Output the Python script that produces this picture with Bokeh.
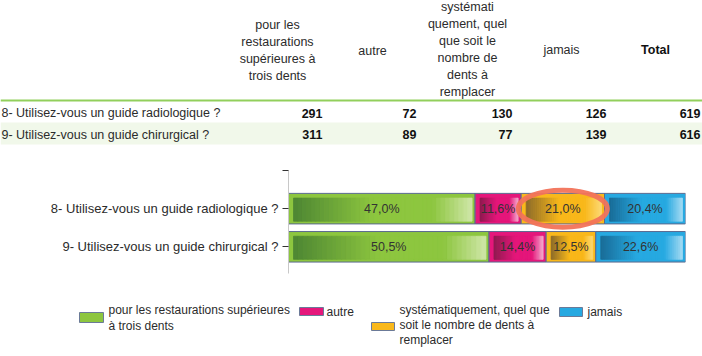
import numpy as np
from bokeh.plotting import figure
from bokeh.layouts import column
from bokeh.models import Range1d, FixedTicker, ColumnDataSource
from bokeh.core.properties import value
from bokeh.embed import file_html
from bokeh.resources import INLINE

# ---------------- data ----------------
questions = ["8- Utilisez-vous un guide radiologique ?",
             "9- Utilisez-vous un guide chirurgical ?"]
header_labels = ["pour les\nrestaurations\nsupérieures à\ntrois dents",
                 "autre",
                 "systémati\nquement, quel\nque soit le\nnombre de\ndents à\nremplacer",
                 "jamais",
                 "Total"]
legend_labels = ["pour les restaurations supérieures\nà trois dents",
                 "autre",
                 "systématiquement, quel que\nsoit le nombre de dents à\nremplacer",
                 "jamais"]
counts_q8 = [291, 72, 130, 126]
counts_q9 = [311, 89, 77, 139]
totals = [619, 616]
pct_q8 = [47.0, 11.6, 21.0, 20.4]
pct_q9 = [50.5, 14.4, 12.5, 22.6]
highlight_question = 0
highlight_category = 2

# ---------------- styles ----------------
FONT = "Liberation Sans"
TXT = "#2b2b2b"
mid_colors = ["#8dc63f", "#e5177b", "#f9b81b", "#27a9e1"]
dark_colors = ["#4d8633", "#8e1b4f", "#8a6a2a", "#1a6b96"]
light_colors = ["#cfe6a8", "#f4a9cc", "#fcd873", "#a3dbf3"]
border_color = "#5b6a8f"


def hex2rgb(h):
    h = h.lstrip("#")
    return np.array([int(h[i:i + 2], 16) for i in (0, 2, 4)], dtype=float)


def rgb2hex(c):
    return "#%02x%02x%02x" % tuple(int(round(v)) for v in c)


def grad(dark, mid, light, t):
    stops = [(0.0, hex2rgb(dark)), (0.45, hex2rgb(mid)), (0.78, hex2rgb(mid)), (1.0, hex2rgb(light))]
    for (t0, c0), (t1, c1) in zip(stops[:-1], stops[1:]):
        if t <= t1:
            f = 0 if t1 == t0 else (t - t0) / (t1 - t0)
            return rgb2hex(c0 + (c1 - c0) * f)
    return rgb2hex(stops[-1][1])


def base_fig(**kw):
    f = figure(toolbar_location=None, output_backend="svg", outline_line_color=None,
               background_fill_color="white", border_fill_color="white",
               frame_align=False, **kw)
    return f

# ---------------- table ----------------
t = base_fig(width=702, height=150, x_range=Range1d(0, 702), y_range=Range1d(150, 0),
             x_axis_type=None, y_axis_type=None, min_border=0)
t.quad(left=0, right=702, top=122, bottom=144, fill_color="#f1f8ea", line_color=None)
t.segment(x0=0, y0=100, x1=702, y1=100, line_color="#92cf5c", line_width=2)

col_centers = [277, 372, 467, 561, 655]
col_rights = [322, 416, 512, 606, 700]
row_y = [112.5, 134]

t.text(x=col_centers[:4], y=[50, 50, 49, 49], text=header_labels[:4],
       text_align="center", text_baseline="middle", text_font=value(FONT),
       text_font_size="12.5px", text_color=TXT, text_line_height=1.22)
t.text(x=[col_centers[4]], y=[49], text=[header_labels[4]], text_align="center",
       text_baseline="middle", text_font=value(FONT), text_font_size="12.5px",
       text_font_style="bold", text_color="#111111")
t.text(x=[1, 1], y=row_y, text=questions, text_align="left", text_baseline="middle",
       text_font=value(FONT), text_font_size="12.5px", text_color=TXT)
for r, (cnts, tot) in enumerate(zip([counts_q8, counts_q9], totals)):
    vals = cnts + [tot]
    t.text(x=col_rights, y=[row_y[r]] * 5, text=[str(v) for v in vals],
           text_align="right", text_baseline="middle", text_font=value(FONT),
           text_font_size="12.5px", text_font_style="bold", text_color="#111111")

# ---------------- bar chart ----------------
c = base_fig(width=702, height=140, x_range=Range1d(0, 100), y_range=Range1d(2.7, 0),
             min_border_left=288, min_border_right=17, min_border_top=20,
             min_border_bottom=17, x_axis_location=None)
c.grid.visible = False
c.yaxis.ticker = FixedTicker(ticks=[0, 1, 2])
c.yaxis.major_label_overrides = {0: "", 1: questions[0], 2: questions[1]}
c.yaxis.axis_line_color = "#c8c8c8"
c.yaxis.major_tick_line_color = "#333333"
c.yaxis.major_tick_out = 6
c.yaxis.major_tick_in = 0
c.yaxis.minor_tick_line_color = None
c.yaxis.major_label_standoff = 4
c.yaxis.major_label_text_font = FONT
c.yaxis.major_label_text_font_size = "13px"
c.yaxis.major_label_text_color = TXT

px = 100.0 / 397.0   # data units per pixel along x
pct_rows = [pct_q8, pct_q9]
ys = [1, 2]

outer = dict(left=[], right=[], y=[], color=[])
inner = dict(left=[], right=[], y=[], color=[])
labels = dict(x=[], y=[], text=[])
N = 40
for r, pcts in enumerate(pct_rows):
    cum = 0.0
    for j, v in enumerate(pcts):
        l, rr = cum, cum + v
        outer["left"].append(l); outer["right"].append(rr)
        outer["y"].append(ys[r]); outer["color"].append(mid_colors[j])
        il, ir = l + 5 * px, rr - 3 * px
        edges = np.linspace(il, ir, N + 1)
        for k in range(N):
            inner["left"].append(edges[k]); inner["right"].append(edges[k + 1])
            inner["y"].append(ys[r] + 0.026)
            inner["color"].append(grad(dark_colors[j], mid_colors[j], light_colors[j], (k + 0.5) / N))
        labels["x"].append((l + rr) / 2); labels["y"].append(ys[r])
        labels["text"].append(("%.1f" % v).replace(".", ",") + "%")
        cum = rr

c.hbar(y="y", left="left", right="right", height=0.8, fill_color="color",
       line_color=border_color, line_width=1, source=ColumnDataSource(outer))
c.hbar(y="y", left="left", right="right", height=0.605, fill_color="color",
       line_color="color", line_width=0.8, source=ColumnDataSource(inner))

hp = pct_rows[highlight_question]
hx = sum(hp[:highlight_category]) + hp[highlight_category] / 2
c.ellipse(x=[hx], y=[ys[highlight_question]], width=89, height=37,
          width_units="screen", height_units="screen", fill_color=None,
          line_color="#f2735a", line_width=5, line_alpha=0.95)

c.text(x="x", y="y", text="text", source=ColumnDataSource(labels), text_align="center",
       text_baseline="middle", text_font=value(FONT), text_font_size="12.5px",
       text_color="#333333")

# ---------------- legend ----------------
lg = base_fig(width=702, height=66, x_range=Range1d(0, 702), y_range=Range1d(356, 290),
              x_axis_type=None, y_axis_type=None, min_border=0)
lg.quad(left=[79, 299, 371, 559], right=[103, 323, 394, 582],
        top=[312, 307, 322, 307], bottom=[322, 315, 330, 316],
        fill_color=mid_colors, line_color="#6b7a98", line_width=1)
lg.text(x=[108, 326, 399, 587], y=[317.5, 311, 324.5, 311], text=legend_labels,
        text_align="left", text_baseline="middle", text_font=value(FONT),
        text_font_size="12px", text_color=TXT, text_line_height=1.1)

layout = column(t, c, lg, spacing=0)
open("out.html", "w").write(file_html(layout, INLINE))
